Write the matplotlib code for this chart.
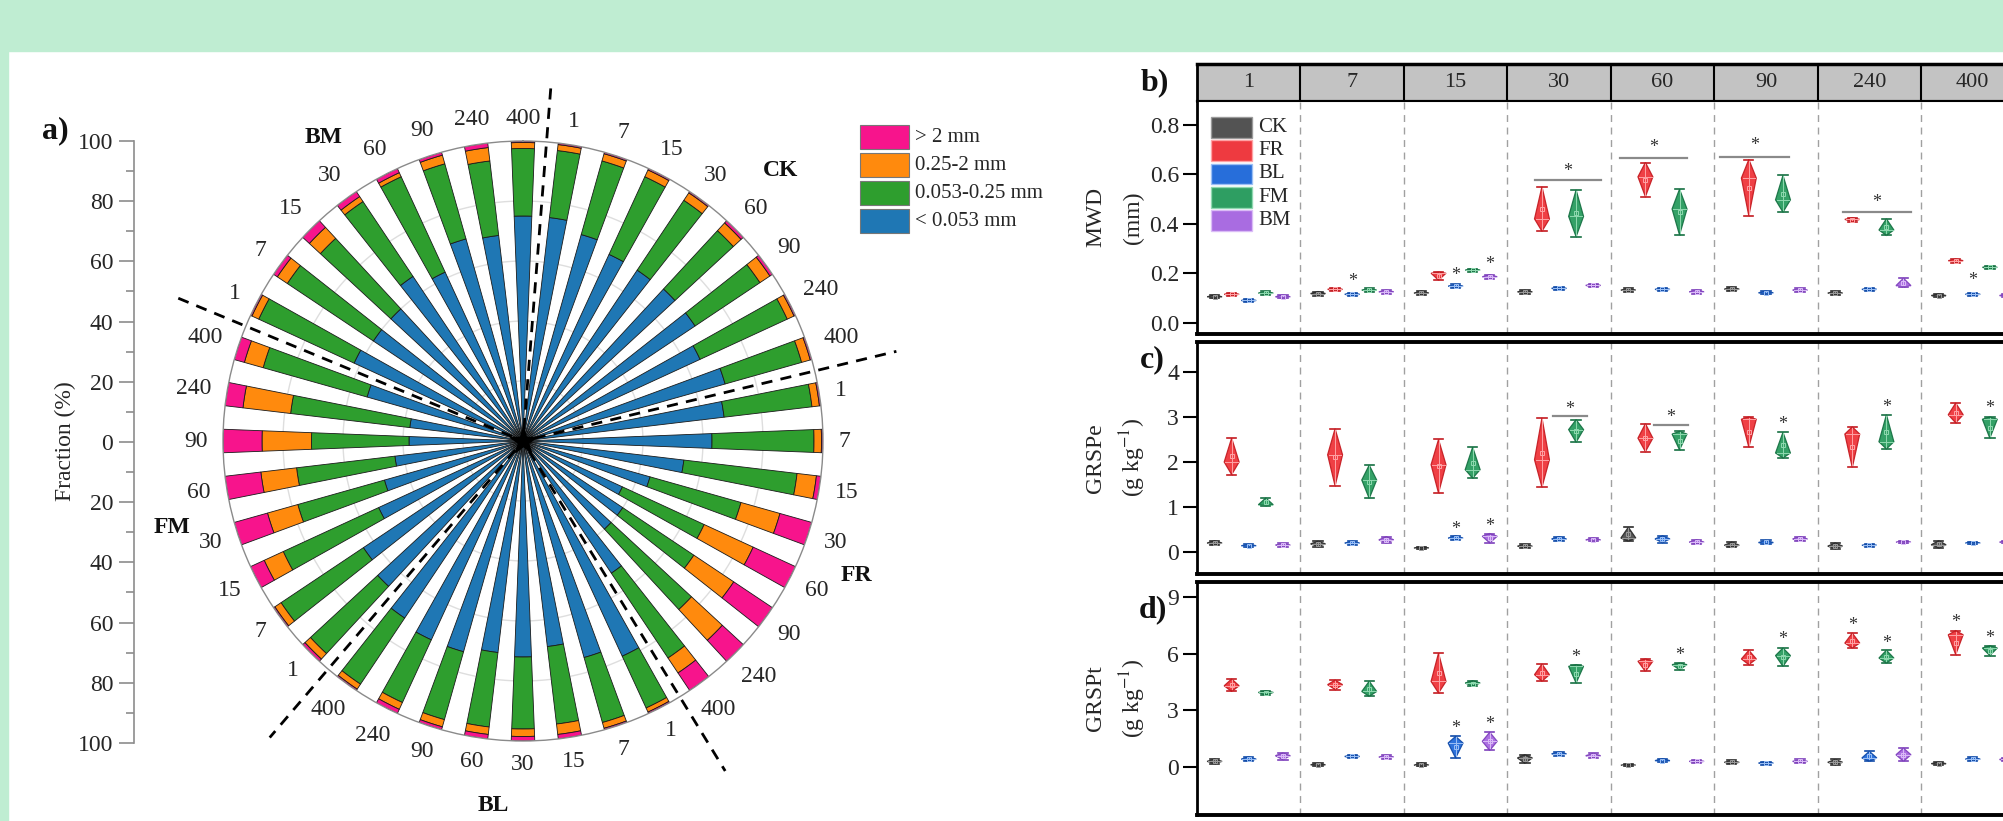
import numpy as np
import matplotlib
matplotlib.use('Agg')
import matplotlib.pyplot as plt
from matplotlib.patches import Rectangle, Polygon

plt.rcParams['font.family'] = ['Liberation Serif', 'DejaVu Serif']
plt.rcParams['mathtext.fontset'] = 'stix'

# ---------------- data ----------------
days = ['1', '7', '15', '30', '60', '90', '240', '400']
treatments = ['CK', 'FR', 'BL', 'FM', 'BM']
size_labels = ['> 2 mm', '0.25-2 mm', '0.053-0.25 mm', '< 0.053 mm']

# aggregate-size fractions (%) per treatment, days 1..400
frac_lt0053 = {
    'CK': [75, 71.5, 68.5, 68.5, 69, 69, 65, 70],
    'FR': [67.5, 63, 54, 44, 36.5, 40, 40, 53],
    'BL': [79, 75, 69, 72, 71, 73, 73, 71],
    'FM': [66, 64, 53, 48, 43, 38, 38, 54],
    'BM': [62, 60, 60, 66, 62, 70, 69, 75],
}
frac_0053_025 = {
    'CK': [22.5, 25.5, 28.5, 28, 26.5, 26, 32, 26.5],
    'FR': [29.5, 34, 38, 31.5, 30, 28.5, 36.5, 34],
    'BL': [19, 22.5, 26, 24, 25, 23.5, 23, 26.5],
    'FM': [30.5, 33, 35, 30, 33, 32.5, 40, 36],
    'BM': [35, 34.5, 32, 30, 35, 26, 25, 22.5],
}
frac_025_2 = {
    'CK': [2, 2.5, 2.5, 3, 3.5, 4, 2.5, 3],
    'FR': [2.5, 2.5, 6.5, 13.5, 18, 16, 14, 6],
    'BL': [1.5, 2, 3.5, 2.5, 2.5, 2.5, 2.5, 2],
    'FM': [2.5, 2.5, 7, 10.5, 12, 16.5, 16, 6.5],
    'BM': [2.5, 4, 5, 2, 1.5, 3, 4.5, 2],
}
frac_gt2 = {
    'CK': [0.5, 0.5, 0.5, 0.5, 1, 1, 0.5, 0.5],
    'FR': [0.5, 0.5, 1.5, 11, 15.5, 15.5, 9.5, 7],
    'BL': [0.5, 0.5, 1.5, 1.5, 1.5, 1, 1.5, 0.5],
    'FM': [1, 0.5, 5, 11.5, 12, 13, 6, 3.5],
    'BM': [0.5, 1.5, 3, 2, 1.5, 1, 1.5, 0.5],
}
fraction_ticks = [-100, -80, -60, -40, -20, 0, 20, 40, 60, 80, 100]

# MWD (mm): low / widest / high of each violin
mwd_lo = {
    'CK': [0.098, 0.110, 0.113, 0.118, 0.126, 0.128, 0.113, 0.104],
    'FR': [0.108, 0.128, 0.172, 0.370, 0.510, 0.432, 0.408, 0.243],
    'BL': [0.083, 0.108, 0.141, 0.132, 0.128, 0.115, 0.128, 0.109],
    'FM': [0.113, 0.125, 0.207, 0.348, 0.355, 0.447, 0.353, 0.218],
    'BM': [0.098, 0.118, 0.178, 0.143, 0.118, 0.125, 0.143, 0.103],
}
mwd_mid = {
    'CK': [0.105, 0.118, 0.120, 0.125, 0.132, 0.136, 0.120, 0.110],
    'FR': [0.115, 0.135, 0.200, 0.420, 0.590, 0.585, 0.418, 0.251],
    'BL': [0.090, 0.115, 0.148, 0.139, 0.135, 0.121, 0.135, 0.115],
    'FM': [0.120, 0.132, 0.213, 0.430, 0.460, 0.497, 0.375, 0.224],
    'BM': [0.105, 0.125, 0.186, 0.151, 0.125, 0.132, 0.150, 0.110],
}
mwd_hi = {
    'CK': [0.112, 0.126, 0.128, 0.131, 0.139, 0.144, 0.127, 0.116],
    'FR': [0.122, 0.142, 0.205, 0.550, 0.648, 0.660, 0.425, 0.258],
    'BL': [0.097, 0.122, 0.155, 0.146, 0.142, 0.128, 0.142, 0.121],
    'FM': [0.127, 0.139, 0.219, 0.537, 0.540, 0.596, 0.420, 0.231],
    'BM': [0.112, 0.132, 0.194, 0.158, 0.132, 0.139, 0.180, 0.117],
}
# GRSPe (g/kg)
grspe_lo = {
    'CK': [0.15, 0.12, 0.06, 0.09, 0.24, 0.10, 0.07, 0.09],
    'FR': [1.72, 1.47, 1.31, 1.44, 2.23, 2.33, 1.88, 2.87],
    'BL': [0.10, 0.16, 0.27, 0.24, 0.21, 0.17, 0.12, 0.17],
    'FM': [1.03, 1.19, 1.64, 2.44, 2.27, 2.09, 2.29, 2.53],
    'BM': [0.12, 0.20, 0.20, 0.24, 0.18, 0.24, 0.19, 0.19],
}
grspe_mid = {
    'CK': [0.20, 0.18, 0.09, 0.13, 0.31, 0.15, 0.13, 0.16],
    'FR': [2.00, 2.16, 1.94, 2.05, 2.53, 2.95, 2.62, 3.05],
    'BL': [0.14, 0.20, 0.31, 0.29, 0.29, 0.21, 0.15, 0.20],
    'FM': [1.05, 1.60, 1.83, 2.72, 2.62, 2.20, 2.45, 2.95],
    'BM': [0.155, 0.27, 0.35, 0.27, 0.22, 0.29, 0.22, 0.22],
}
grspe_hi = {
    'CK': [0.25, 0.24, 0.12, 0.17, 0.55, 0.22, 0.20, 0.25],
    'FR': [2.53, 2.74, 2.50, 2.98, 2.85, 3.00, 2.78, 3.31],
    'BL': [0.17, 0.24, 0.36, 0.34, 0.36, 0.26, 0.18, 0.23],
    'FM': [1.20, 1.93, 2.33, 2.94, 2.68, 2.66, 3.05, 3.00],
    'BM': [0.19, 0.34, 0.41, 0.31, 0.27, 0.34, 0.25, 0.25],
}
# GRSPt (g/kg)
grspt_lo = {
    'CK': [0.18, 0.05, 0.03, 0.20, 0.04, 0.15, 0.12, 0.10],
    'FR': [4.00, 4.10, 3.92, 4.54, 5.06, 5.42, 6.30, 5.95],
    'BL': [0.30, 0.46, 0.48, 0.60, 0.25, 0.13, 0.30, 0.32],
    'FM': [3.80, 3.74, 4.27, 4.45, 5.15, 5.33, 5.50, 5.90],
    'BM': [0.39, 0.43, 0.88, 0.48, 0.22, 0.20, 0.30, 0.30],
}
grspt_mid = {
    'CK': [0.30, 0.12, 0.10, 0.48, 0.10, 0.25, 0.25, 0.18],
    'FR': [4.30, 4.36, 4.53, 4.89, 5.60, 5.72, 6.56, 7.00],
    'BL': [0.42, 0.56, 1.27, 0.70, 0.34, 0.21, 0.48, 0.42],
    'FM': [3.95, 4.00, 4.45, 5.33, 5.42, 5.90, 5.77, 6.30],
    'BM': [0.60, 0.53, 1.36, 0.60, 0.30, 0.30, 0.65, 0.40],
}
grspt_hi = {
    'CK': [0.42, 0.20, 0.22, 0.65, 0.15, 0.35, 0.40, 0.26],
    'FR': [4.66, 4.60, 6.03, 5.45, 5.72, 6.18, 7.09, 7.22],
    'BL': [0.54, 0.66, 1.62, 0.80, 0.44, 0.29, 0.83, 0.52],
    'FM': [4.04, 4.54, 4.57, 5.42, 5.50, 6.30, 6.18, 6.42],
    'BM': [0.74, 0.63, 1.84, 0.72, 0.38, 0.40, 1.00, 0.50],
}
# significance stars: (day index, treatment, y)
mwd_stars = [(1, 'BL', 0.166), (2, 'BL', 0.19), (2, 'BM', 0.236), (7, 'BL', 0.169)]
grspe_stars = [(2, 'BL', 0.51), (2, 'BM', 0.57), (5, 'FM', 2.83), (6, 'FM', 3.22), (7, 'FM', 3.19)]
grspt_stars = [(2, 'BL', 2.03), (2, 'BM', 2.24), (3, 'FM', 5.82), (4, 'FM', 5.89),
               (5, 'FM', 6.74), (6, 'FR', 7.48), (6, 'FM', 6.56), (7, 'FR', 7.66), (7, 'FM', 6.78)]
# brackets: (day index, left offset, right offset, y line, y star)
mwd_brackets = [(3, -0.236, 0.407, 0.577, 0.611), (4, -0.41, 0.24, 0.668, 0.708),
                (5, -0.44, 0.22, 0.672, 0.716), (6, -0.25, 0.40, 0.449, 0.486)]
grspe_brackets = [(3, -0.057, 0.27, 3.03, 3.17), (4, -0.086, 0.242, 2.83, 2.99)]

# ---------------- style ----------------
W, H, DPI = 2003, 821, 100
fig = plt.figure(figsize=(W / DPI, H / DPI), dpi=DPI)
fig.patch.set_facecolor('white')

def fx(px):
    return px / W

def fy(py):
    return 1 - py / H

band = '#bfedd2'
fig.patches.append(Rectangle((0, fy(51)), 1, 51 / H, transform=fig.transFigure, color=band, zorder=0))
fig.patches.append(Rectangle((0, 0), 8 / W, 1, transform=fig.transFigure, color=band, zorder=0))

c_pink, c_orange, c_green, c_blue = '#f7148c', '#ff8a0d', '#2e9e2e', '#1f77b4'
TXT = '#262626'

# ---------------- polar panel a ----------------
cx, cy, R = 523, 441, 300
axp = fig.add_axes([fx(cx - R), fy(cy + R), 2 * R / W, 2 * R / H], projection='polar')
axp.set_theta_zero_location('N')
axp.set_theta_direction(-1)
axp.set_ylim(0, 100)
axp.grid(False)
axp.set_xticks([])
axp.set_yticks([])
axp.spines['polar'].set_color('#8a8a8a')
axp.spines['polar'].set_linewidth(1.0)

n = len(treatments) * len(days)
thetas = np.deg2rad(9 + 9 * np.arange(n))
blue = np.concatenate([frac_lt0053[t] for t in treatments])
green = np.concatenate([frac_0053_025[t] for t in treatments])
orange = np.concatenate([frac_025_2[t] for t in treatments])
pink = np.concatenate([frac_gt2[t] for t in treatments])

tt = np.linspace(0, 2 * np.pi, 400)
for r in [20, 40, 60, 80]:
    axp.plot(tt, np.full_like(tt, r), color='#dedede', lw=1.0, zorder=0)

bw = np.deg2rad(4.5)
ekw = dict(edgecolor='#1a1a1a', linewidth=0.6, zorder=2)
axp.bar(thetas, blue, width=bw, bottom=0, color=c_blue, **ekw)
axp.bar(thetas, green, width=bw, bottom=blue, color=c_green, **ekw)
axp.bar(thetas, orange, width=bw, bottom=blue + green, color=c_orange, **ekw)
axp.bar(thetas, pink, width=bw, bottom=blue + green + orange, color=c_pink, **ekw)
axp.plot([0], [0], marker='*', ms=20, color='black', zorder=6, clip_on=False)

# group separators
for ang, rend in zip([4.5, 76.5, 148.5, 220.5, 292.5], [119, 128, 129, 130, 126]):
    a = np.deg2rad(ang)
    axp.plot([a, a], [4, rend], color='black', lw=2.0, ls=(0, (4, 3)), clip_on=False, zorder=5)

# day labels
for i in range(n):
    lab = days[i % 8]
    th = np.deg2rad(9 + 9 * i)
    w = 11.8 * len(lab)
    d = 15 + 0.5 * w * abs(np.sin(th)) + 8 * abs(np.cos(th))
    axp.text(th, 100 * (1 + d / R), lab, ha='center', va='center', fontsize=17, color=TXT)

# group labels
for t, ang, rr in zip(treatments, [43.5, 112, 184.7, 256.2, 326.6], [124.5, 120, 122, 120.5, 121]):
    axp.text(np.deg2rad(ang), rr, t, ha='center', va='center', fontsize=17, fontweight='bold', color='#111')

# legend for panel a
leg_cols = [c_pink, c_orange, c_green, c_blue]
for k, (lab, col) in enumerate(zip(size_labels, leg_cols)):
    yc = 137 + 28 * k
    fig.patches.append(Rectangle((fx(860), fy(yc + 12)), 49 / W, 24 / H, transform=fig.transFigure,
                                 facecolor=col, edgecolor='#777', lw=0.8))
    fig.text(fx(915), fy(yc), lab, ha='left', va='center', fontsize=15, color=TXT)

# left fraction axis
axl = fig.add_axes([fx(134), fy(743), 0.0001, 602 / H])
axl.set_ylim(-100, 100)
axl.set_facecolor('none')
for s in ['right', 'top', 'bottom']:
    axl.spines[s].set_visible(False)
axl.spines['left'].set_color('#8c8c8c')
axl.spines['left'].set_linewidth(1.2)
axl.set_xticks([])
axl.set_yticks(fraction_ticks)
axl.set_yticklabels([str(abs(v)) for v in fraction_ticks])
axl.set_yticks(np.arange(-90, 100, 20), minor=True)
axl.tick_params(axis='y', which='major', length=11, width=1.2, color='#8c8c8c', labelsize=17,
                labelcolor=TXT, pad=4)
axl.tick_params(axis='y', which='minor', length=6, width=1.2, color='#8c8c8c')
fig.text(fx(65), fy(441), 'Fraction (%)', rotation=90, ha='center', va='center', fontsize=17, color=TXT)
fig.text(fx(55), fy(131), 'a)', ha='center', va='center', fontsize=23, fontweight='bold', color='#111')

# ---------------- right panels ----------------
vfill = {'CK': '#4a4a4a', 'FR': '#ee2f35', 'BL': '#1b66d8', 'FM': '#23995a', 'BM': '#a564e0'}
vedge = {'CK': '#2b2b2b', 'FR': '#c41a20', 'BL': '#0f4aa8', 'FM': '#157042', 'BM': '#7d3fbb'}
vlight = {'CK': '#9a9a9a', 'FR': '#ffa3a5', 'BL': '#9cc0f5', 'FM': '#8fd9b0', 'BM': '#dbbdf7'}
offsets = dict(zip(treatments, [-0.33, -0.165, 0.0, 0.165, 0.33]))

L, RW = 1197, 827.5
hdr = fig.add_axes([fx(L), fy(100.7), RW / W, 36.7 / H])
hdr.set_xlim(-0.5, 7.5)
hdr.set_ylim(0, 1)
hdr.set_facecolor('#c3c3c3')
hdr.set_xticks([])
hdr.set_yticks([])
for s, lw in [('top', 2.5), ('left', 2.0), ('bottom', 1.5), ('right', 1.5)]:
    hdr.spines[s].set_linewidth(lw)
    hdr.spines[s].set_color('black')
for k, dlab in enumerate(days):
    hdr.text(k, 0.5, dlab, ha='center', va='center', fontsize=16, color=TXT)
    if k < 7:
        hdr.axvline(k + 0.5, color='black', lw=1.5)


def panel(top, bottom, ylim, yticks, ytl, lo, mid, hi, stars, brackets, name, unit, tag):
    ax = fig.add_axes([fx(L), fy(bottom), RW / W, (bottom - top) / H])
    ax.set_xlim(-0.5, 7.5)
    ax.set_ylim(*ylim)
    ax.set_xticks([])
    ax.set_yticks(yticks)
    ax.set_yticklabels(ytl)
    ax.tick_params(axis='y', length=10, width=1.5, labelsize=17, labelcolor=TXT, pad=3)
    ax.spines['left'].set_linewidth(2.0)
    ax.spines['bottom'].set_linewidth(2.8)
    ax.spines['top'].set_linewidth(2.8 if tag != 'b)' else 1.5)
    for k in range(7):
        ax.axvline(k + 0.5, color='#a0a0a0', lw=1.0, ls=(0, (5, 4)), zorder=1)
    w, cw = 0.072, 0.045
    for t in treatments:
        for k in range(len(days)):
            x = k + offsets[t]
            a, m, b = lo[t][k], mid[t][k], hi[t][k]
            ax.add_patch(Polygon([[x, a], [x + w, m], [x, b], [x - w, m]], closed=True,
                                 facecolor=vfill[t], edgecolor=vedge[t], lw=0.9, alpha=0.92, zorder=3))
            ax.plot([x, x], [a, b], color=vlight[t], lw=0.7, zorder=4)
            ax.plot([x - w * 0.85, x + w * 0.85], [m, m], color=vlight[t], lw=0.7, zorder=4)
            ax.plot([x - cw, x + cw], [a, a], color=vedge[t], lw=1.2, zorder=4)
            ax.plot([x - cw, x + cw], [b, b], color=vedge[t], lw=1.2, zorder=4)
            ax.plot([x], [(a + b) / 2], marker='s', ms=3.5, mfc='none', mec=vlight[t], mew=0.7, zorder=5)
    for k, t, y in stars:
        ax.text(k + offsets[t], y, '*', ha='center', va='center', fontsize=13, color='#333', zorder=6)
    for k, x0, x1, y, ys in brackets:
        ax.plot([k + x0, k + x1], [y, y], color='#8a8a8a', lw=1.6, zorder=5)
        ax.text(k + (x0 + x1) / 2, ys, '*', ha='center', va='center', fontsize=13, color='#333', zorder=6)
    yc = (top + bottom) / 2
    fig.text(fx(1096), fy(yc), name, rotation=90, ha='center', va='center', fontsize=17, color=TXT)
    fig.text(fx(1133), fy(yc), unit, rotation=90, ha='center', va='center', fontsize=17, color=TXT)
    return ax


axb = panel(100.7, 334, (-0.0457, 0.898), [0, 0.2, 0.4, 0.6, 0.8], ['0.0', '0.2', '0.4', '0.6', '0.8'],
            mwd_lo, mwd_mid, mwd_hi, mwd_stars, mwd_brackets, 'MWD', '(mm)', 'b)')
axc = panel(341.7, 574, (-0.489, 4.673), [0, 1, 2, 3, 4], ['0', '1', '2', '3', '4'],
            grspe_lo, grspe_mid, grspe_hi, grspe_stars, grspe_brackets, 'GRSPe', '(g kg$^{-1}$)', 'c)')
axd = panel(581.7, 815, (-2.54, 9.81), [0, 3, 6, 9], ['0', '3', '6', '9'],
            grspt_lo, grspt_mid, grspt_hi, grspt_stars, [], 'GRSPt', '(g kg$^{-1}$)', 'd)')

fig.text(fx(1155), fy(83), 'b)', ha='center', va='center', fontsize=23, fontweight='bold', color='#111')
fig.text(fx(1152), fy(360), 'c)', ha='center', va='center', fontsize=23, fontweight='bold', color='#111')
fig.text(fx(1153), fy(610), 'd)', ha='center', va='center', fontsize=23, fontweight='bold', color='#111')

# legend in panel b
for k, t in enumerate(treatments):
    yc = 127.3 + 23.3 * k
    fig.patches.append(Rectangle((fx(1210.7), fy(yc + 10.3)), 41.6 / W, 20.6 / H, transform=fig.transFigure,
                                 facecolor=vfill[t], edgecolor=vlight[t], lw=1.0, alpha=0.95, zorder=5))
    fig.text(fx(1258), fy(yc), t, ha='left', va='center', fontsize=15, color=TXT)

fig.savefig('out.png', dpi=DPI)
